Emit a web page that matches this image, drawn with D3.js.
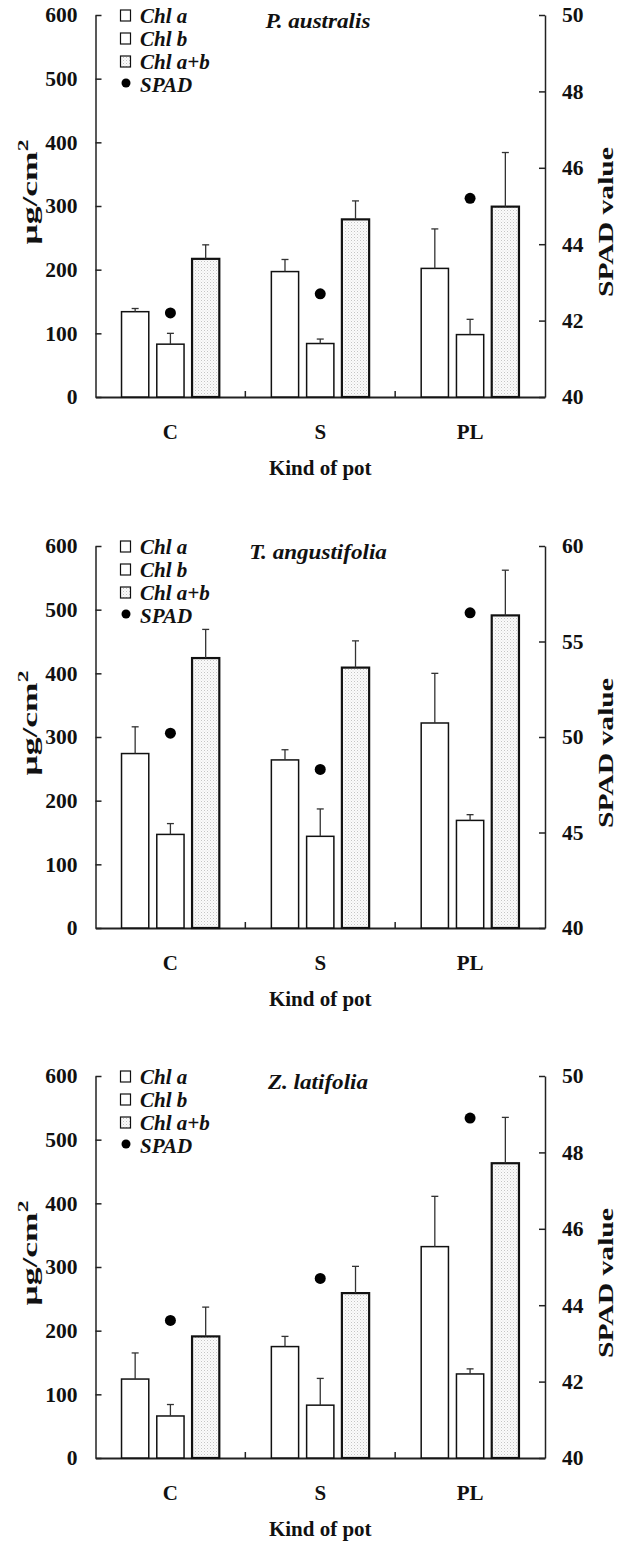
<!DOCTYPE html>
<html>
<head>
<meta charset="utf-8">
<script src="https://cdn.jsdelivr.net/npm/d3@7/dist/d3.min.js"></script>
<style>
body{margin:0;background:#fff;}
svg text{font-family:"Liberation Serif","Times New Roman",serif;font-weight:bold;fill:#111;}
</style>
</head>
<body>
<svg id="chart" width="617" height="1544"></svg>
<script>
// categories and series
var categories = ["C", "S", "PL"];
var seriesNames = ["Chl a", "Chl b", "Chl a+b"];
var species = ["P. australis", "T. angustifolia", "Z. latifolia"];
var chlTicks = [0, 100, 200, 300, 400, 500, 600];

// P. australis
var chlA1 = [134, 197, 202], chlA1Sd = [5, 19, 62];
var chlB1 = [83, 84, 98], chlB1Sd = [17, 7, 24];
var chlAB1 = [217, 279, 299], chlAB1Sd = [22, 29, 85];
var spad1 = [42.2, 42.7, 45.2];
var spadTicks1 = [40, 42, 44, 46, 48, 50];

// T. angustifolia
var chlA2 = [274, 264, 322], chlA2Sd = [42, 16, 78];
var chlB2 = [147, 144, 169], chlB2Sd = [17, 43, 9];
var chlAB2 = [424, 409, 491], chlAB2Sd = [45, 42, 71];
var spad2 = [50.2, 48.3, 56.5];
var spadTicks2 = [40, 45, 50, 55, 60];

// Z. latifolia
var chlA3 = [124, 175, 332], chlA3Sd = [41, 16, 79];
var chlB3 = [66, 83, 132], chlB3Sd = [18, 42, 8];
var chlAB3 = [191, 259, 463], chlAB3Sd = [46, 42, 72];
var spad3 = [43.6, 44.7, 48.9];
var spadTicks3 = [40, 42, 44, 46, 48, 50];

var panels = [
	{name: species[0], means: [chlA1, chlB1, chlAB1], sds: [chlA1Sd, chlB1Sd, chlAB1Sd], spad: spad1, spadTicks: spadTicks1},
	{name: species[1], means: [chlA2, chlB2, chlAB2], sds: [chlA2Sd, chlB2Sd, chlAB2Sd], spad: spad2, spadTicks: spadTicks2},
	{name: species[2], means: [chlA3, chlB3, chlAB3], sds: [chlA3Sd, chlB3Sd, chlAB3Sd], spad: spad3, spadTicks: spadTicks3}
];

var tops = [15, 546, 1076];
var h = 382;
var left = 95.5, right = 545;

var svg = d3.select('#chart');

// stipple for the a+b bars
var pat = svg.append('defs').append('pattern')
	.attr('id', 'stipple')
	.attr('patternUnits', 'userSpaceOnUse')
	.attr('width', 3).attr('height', 3);
pat.append('rect').attr('width', 3).attr('height', 3).attr('fill', '#fbfbfb');
pat.append('rect').attr('x', 0).attr('y', 0).attr('width', 1).attr('height', 1).attr('fill', '#c4c4c4');
pat.append('rect').attr('x', 1.5).attr('y', 1.5).attr('width', 1).attr('height', 1).attr('fill', '#dedede');

var x = d3.scaleBand().domain(categories).range([left, right]);
var xs = d3.scaleBand().domain(seriesNames).range([0, x.bandwidth()])
	.paddingInner(0.227).paddingOuter(0.738);
var y = d3.scaleLinear().domain([0, 600]).range([h, 0]);

function fillFor(s){ return s === 'Chl a+b' ? 'url(#stipple)' : '#fff'; }

panels.forEach(function(p, i){
	var g = svg.append('g').attr('transform', 'translate(0,' + tops[i] + ')');
	var sd = p.spadTicks;
	var y2 = d3.scaleLinear().domain([sd[0], sd[sd.length - 1]]).range([h, 0]);

	// left axis
	var la = g.append('g').attr('transform', 'translate(' + left + ',0)')
		.call(d3.axisLeft(y).tickValues(chlTicks).tickSizeInner(-6).tickSizeOuter(0).tickPadding(18));
	// right axis
	var ra = g.append('g').attr('transform', 'translate(' + right + ',0)')
		.call(d3.axisRight(y2).tickValues(sd).tickSizeInner(-6).tickSizeOuter(0).tickPadding(17));
	// bottom axis
	var ba = g.append('g').attr('transform', 'translate(0,' + h + ')')
		.call(d3.axisBottom(x).tickSize(0).tickPadding(27));
	[la, ra, ba].forEach(function(a){
		a.selectAll('path,line').attr('stroke', '#222').attr('stroke-width', 1.5);
		a.selectAll('text').style('font-size', '21.5px').attr('fill', '#111');
	});
	ba.selectAll('text').style('font-size', '21px');
	ba.select('.domain').attr('stroke-width', 1.8);
	// small ticks between the pot groups
	g.selectAll('.sep').data(categories.slice(1)).enter().append('line')
		.attr('x1', function(c){ return x(c); }).attr('x2', function(c){ return x(c); })
		.attr('y1', h).attr('y2', h - 6)
		.attr('stroke', '#222').attr('stroke-width', 1.5);

	// bars
	var rows = [];
	seriesNames.forEach(function(s, si){
		categories.forEach(function(c, ci){
			rows.push({s: s, c: c, v: p.means[si][ci], e: p.sds[si][ci]});
		});
	});
	g.selectAll('.bar').data(rows).enter().append('rect')
		.attr('class', 'bar')
		.attr('x', function(d){ return x(d.c) + xs(d.s); })
		.attr('width', xs.bandwidth())
		.attr('y', function(d){ return y(d.v); })
		.attr('height', function(d){ return h - y(d.v); })
		.attr('fill', function(d){ return fillFor(d.s); })
		.attr('stroke', '#111')
		.attr('stroke-width', function(d){ return d.s === 'Chl a+b' ? 2.2 : 1.5; });

	// error bars
	var eb = g.selectAll('.err').data(rows).enter().append('g').attr('class', 'err')
		.attr('stroke', '#333').attr('stroke-width', 1.3);
	eb.append('line')
		.attr('x1', function(d){ return x(d.c) + xs(d.s) + xs.bandwidth() / 2; })
		.attr('x2', function(d){ return x(d.c) + xs(d.s) + xs.bandwidth() / 2; })
		.attr('y1', function(d){ return y(d.v); })
		.attr('y2', function(d){ return y(d.v + d.e); });
	eb.append('line')
		.attr('x1', function(d){ return x(d.c) + xs(d.s) + xs.bandwidth() / 2 - 3.5; })
		.attr('x2', function(d){ return x(d.c) + xs(d.s) + xs.bandwidth() / 2 + 3.5; })
		.attr('y1', function(d){ return y(d.v + d.e); })
		.attr('y2', function(d){ return y(d.v + d.e); });

	// SPAD points
	g.selectAll('.spad').data(p.spad).enter().append('circle')
		.attr('cx', function(d, k){ return x(categories[k]) + x.bandwidth() / 2; })
		.attr('cy', function(d){ return y2(d); })
		.attr('r', 5.5)
		.attr('fill', '#000');

	// legend
	var lg = g.append('g').attr('transform', 'translate(120,0)');
	seriesNames.concat(['SPAD']).forEach(function(s, k){
		var by = 7.5 + k * 23;
		if (s === 'SPAD') {
			lg.append('circle').attr('cx', 6).attr('cy', by - 8.5).attr('r', 4.5).attr('fill', '#000');
		} else {
			lg.append('rect').attr('x', 0.5).attr('y', by - 12.5).attr('width', 10).attr('height', 11)
				.attr('fill', fillFor(s)).attr('stroke', '#111').attr('stroke-width', 1.2);
		}
		lg.append('text').attr('x', 20).attr('y', by)
			.style('font-size', '21px').style('font-style', 'italic')
			.text(s);
	});

	// species name
	g.append('text').attr('x', 318).attr('y', 12.5)
		.attr('text-anchor', 'middle')
		.style('font-size', '21px').style('font-style', 'italic')
		.attr('transform', 'translate(318,0) scale(1.1,1) translate(-318,0)')
		.text(p.name);

	// axis titles
	var yt = g.append('text')
		.attr('transform', 'translate(37,' + 177 + ') rotate(-90)')
		.attr('text-anchor', 'middle')
		.attr('textLength', 105).attr('lengthAdjust', 'spacingAndGlyphs')
		.style('font-size', '21px');
	yt.append('tspan').text('\u03bcg/cm');
	yt.append('tspan').attr('dy', -9).style('font-size', '14px').text('2');

	g.append('text')
		.attr('transform', 'translate(613,' + 207 + ') rotate(-90)')
		.attr('text-anchor', 'middle')
		.attr('textLength', 150).attr('lengthAdjust', 'spacingAndGlyphs')
		.style('font-size', '21px')
		.text('SPAD value');

	g.append('text').attr('x', (left + right) / 2).attr('y', h + 78)
		.attr('text-anchor', 'middle')
		.style('font-size', '21px')
		.text('Kind of pot');
});
</script>
</body>
</html>
